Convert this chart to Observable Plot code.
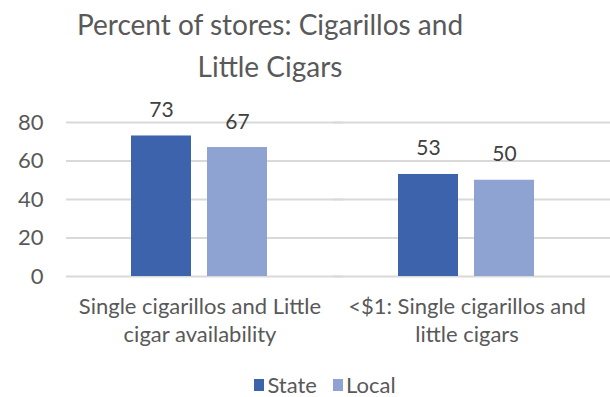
<!DOCTYPE html>
<html>
<head>
<meta charset="utf-8">
<script src="https://cdn.jsdelivr.net/npm/d3@7"></script>
<script src="https://cdn.jsdelivr.net/npm/@observablehq/plot@0.6"></script>
<style>
  html, body { margin: 0; padding: 0; background: #fff; }
  body { width: 610px; height: 397px; overflow: hidden; font-family: Lato, "Open Sans", sans-serif; }
  #title { width: 540px; height: 90px; text-align: center; font-size: 28px; line-height: 42px; color: #595959; padding-top: 3px; box-sizing: border-box; }
  #legend { display: flex; justify-content: center; gap: 16px; font-size: 22px; line-height: 24px; color: #595959; margin-left: 40px; margin-top: 17px; }
  #legend span.item { display: flex; align-items: center; gap: 3px; }
  #legend span.sw { display: inline-block; width: 10px; height: 12px; }
</style>
</head>
<body>
<div id="title">Percent of stores: Cigarillos and<br>Little Cigars</div>
<div id="chart"></div>
<div id="legend"></div>
<script>
const categories = ["Single cigarillos and Little cigar availability", "<$1: Single cigarillos and little cigars"];
const categoryLabels = ["Single cigarillos and Little\ncigar availability", "<$1: Single cigarillos and\nlittle cigars"];
const seriesNames = ["State", "Local"];
const stateValues = [73, 53];
const localValues = [67, 50];
const yTicks = [0, 20, 40, 60, 80];
const colors = ["#3C63AC", "#8FA3D3"];

const data = [];
categories.forEach((c, i) => {
  data.push({category: c, series: "State", value: stateValues[i]});
  data.push({category: c, series: "Local", value: localValues[i]});
});
const labelOf = new Map(categories.map((c, i) => [c, categoryLabels[i]]));

const chart = Plot.plot({
  width: 610,
  height: 266,
  marginTop: 32,
  marginBottom: 80,
  marginLeft: 65,
  marginRight: 10,
  style: {fontFamily: "Lato, 'Open Sans', sans-serif", fontSize: "22px", color: "#595959", background: "transparent"},
  fx: {domain: categories, padding: 0, label: null, axis: null},
  x: {domain: seriesNames, paddingInner: 0.21, paddingOuter: 0.84, axis: null},
  y: {domain: [0, 80], label: null},
  color: {domain: seriesNames, range: colors},
  marks: [
    Plot.gridY(yTicks, {stroke: "#d9d9d9", strokeOpacity: 1, strokeWidth: 2, insetRight: -10}),
    Plot.axisY(yTicks, {tickSize: 0, tickPadding: 23, fill: "#595959", fontSize: 22, label: null}),
    Plot.axisFx({anchor: "bottom", tickSize: 0, tickPadding: 18, tickFormat: d => labelOf.get(d), fill: "#595959", fontSize: 22, lineHeight: 1.25, label: null}),
    Plot.barY(data, {fx: "category", x: "series", y: "value", fill: "series"}),
    Plot.text(data, {fx: "category", x: "series", y: "value", text: d => String(d.value), lineAnchor: "bottom", dy: -19, fill: "#404040", fontSize: 21})
  ]
});
document.getElementById("chart").appendChild(chart);

const legend = document.getElementById("legend");
seriesNames.forEach((s, i) => {
  const item = document.createElement("span");
  item.className = "item";
  const sw = document.createElement("span");
  sw.className = "sw";
  sw.style.background = colors[i];
  item.appendChild(sw);
  item.appendChild(document.createTextNode(s));
  legend.appendChild(item);
});
</script>
</body>
</html>
